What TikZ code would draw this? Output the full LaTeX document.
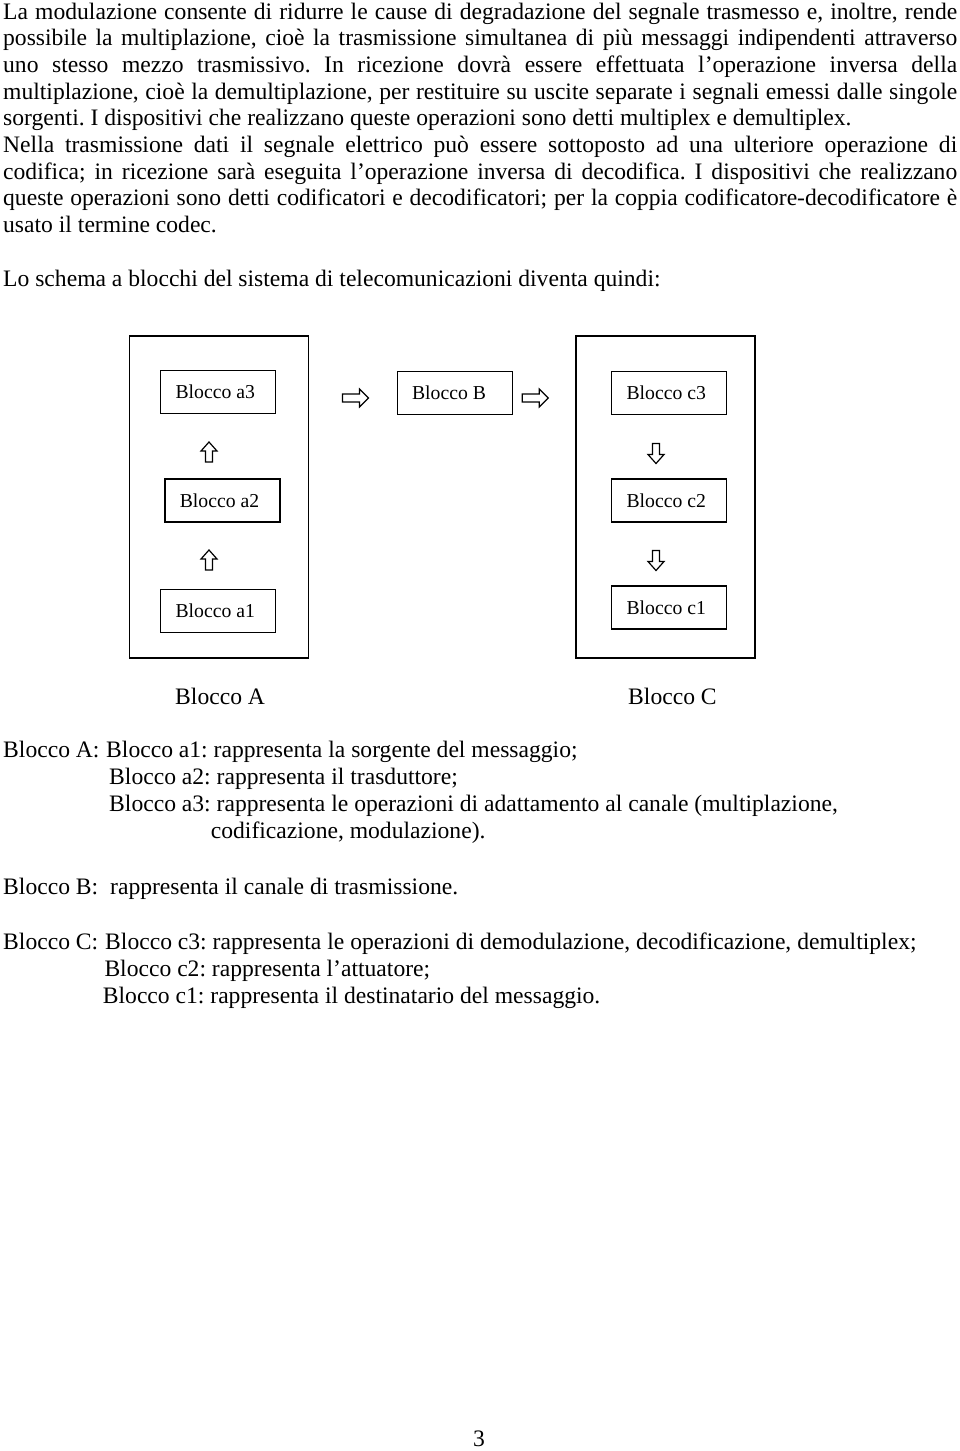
\documentclass[tikz,border=0pt]{standalone}
\usepackage{fontspec}
\setmainfont{Liberation Serif}
\usetikzlibrary{calc}
\frenchspacing
\newcommand\bodyfont{\fontsize{23.6}{26.7}\selectfont}
\newcommand\boxfont{\fontsize{19.7}{22}\selectfont}
\newcommand\jline[1]{\makebox[954pt][s]{#1}}
\newcommand\rightblk[1]{\draw[barrow] ($(#1)+(-13,-4)$) -- ++(17,0) -- ++(0,-5) -- ++(9,9) -- ++(-9,9) -- ++(0,-5) -- ++(-17,0) -- cycle;}
\newcommand\upblk[1]{\draw[barrow] ($(#1)+(-3.5,10)$) -- ++(0,-11) -- ++(-4.5,0) -- ++(8,-9) -- ++(8,9) -- ++(-4.5,0) -- ++(0,11) -- cycle;}
\newcommand\downblk[1]{\draw[barrow] ($(#1)+(-3.5,-10)$) -- ++(0,11) -- ++(-4.5,0) -- ++(8,9) -- ++(8,-9) -- ++(-4.5,0) -- ++(0,-11) -- cycle;}
\begin{document}
\begin{tikzpicture}[x=1pt,y=-1pt,
  txt/.style={anchor=base west, inner sep=0pt, font=\bodyfont},
  blk/.style={draw, line width=1.5pt, minimum width=115pt, minimum height=43pt, inner sep=0pt, font=\boxfont},
  outerbox/.style={draw, line width=1.6pt, minimum width=179pt, minimum height=322pt, inner sep=0pt},
  barrow/.style={draw, line width=1.2pt, fill=white, line join=miter}]
\useasboundingbox (0,0) rectangle (960,1451);
% paragraph text
\node[txt] (l1) at (3,19) {\jline{La modulazione consente di ridurre le cause di degradazione del segnale trasmesso e, inoltre, rende}};
\node[txt] (l2) at (3,45.7) {\jline{possibile la multiplazione, cioè la trasmissione simultanea di più messaggi indipendenti attraverso}};
\node[txt] (l3) at (3,72.4) {\jline{uno stesso mezzo trasmissivo. In ricezione dovrà essere effettuata l’operazione inversa della}};
\node[txt] (l4) at (3,99.1) {\jline{multiplazione, cioè la demultiplazione, per restituire su uscite separate i segnali emessi dalle singole}};
\node[txt] (l5) at (3,125.8) {sorgenti. I dispositivi che realizzano queste operazioni sono detti multiplex e demultiplex.};
\node[txt] (l6) at (3,152.5) {\jline{Nella trasmissione dati il segnale elettrico può essere sottoposto ad una ulteriore operazione di}};
\node[txt] (l7) at (3,179.2) {\jline{codifica; in ricezione sarà eseguita l’operazione inversa di decodifica. I dispositivi che realizzano}};
\node[txt] (l8) at (3,205.9) {\jline{queste operazioni sono detti codificatori e decodificatori; per la coppia codificatore-decodificatore è}};
\node[txt] (l9) at (3,232.6) {usato il termine codec.};
\node[txt] (l10) at (3,286) {Lo schema a blocchi del sistema di telecomunicazioni diventa quindi:};
% diagram
\node[outerbox] (A) at (218.8,496.8) {};
\node[outerbox] (C) at (665.5,496.8) {};
\node[blk] (a3) at (218.2,392) {\hspace*{-3pt}Blocco a3\hspace*{3pt}};
\node[blk] (a2) at (222.5,500.5) {\hspace*{-3pt}Blocco a2\hspace*{3pt}};
\node[blk] (a1) at (218.2,611) {\hspace*{-3pt}Blocco a1\hspace*{3pt}};
\node[blk] (B) at (455,393) {\hspace*{-6pt}Blocco B\hspace*{6pt}};
\node[blk] (c3) at (669.2,393) {\hspace*{-3pt}Blocco c3\hspace*{3pt}};
\node[blk] (c2) at (669.2,500.7) {\hspace*{-3pt}Blocco c2\hspace*{3pt}};
\node[blk] (c1) at (669.2,607.5) {\hspace*{-3pt}Blocco c1\hspace*{3pt}};
\coordinate (ab) at (355.5,398);
\coordinate (bc) at (535.3,398);
\coordinate (a12) at (209,560);
\coordinate (a23) at (209,452);
\coordinate (c32) at (656,453.5);
\coordinate (c21) at (656,560.5);
\rightblk{ab}
\rightblk{bc}
\upblk{a12}
\upblk{a23}
\downblk{c32}
\downblk{c21}
\node[txt] (labA) at (175,704) {Blocco A};
\node[txt] (labC) at (628,704) {Blocco C};
% description
\node[txt] (dA) at (3,757) {Blocco A:};
\node[txt] (da1) at (106,757) {Blocco a1: rappresenta la sorgente del messaggio;};
\node[txt] (da2) at (109,784) {Blocco a2: rappresenta il trasduttore;};
\node[txt] (da3) at (109,811) {Blocco a3: rappresenta le operazioni di adattamento al canale (multiplazione,};
\node[txt] (da3b) at (210.7,838) {codificazione, modulazione).};
\node[txt] (dB) at (3,894) {Blocco B:};
\node[txt] (dBt) at (110,894) {rappresenta il canale di trasmissione.};
\node[txt] (dC) at (3,949) {Blocco C:};
\node[txt] (dc3) at (105,949) {Blocco c3: rappresenta le operazioni di demodulazione, decodificazione, demultiplex;};
\node[txt] (dc2) at (104.3,976) {Blocco c2: rappresenta l’attuatore;};
\node[txt] (dc1) at (102.7,1003) {Blocco c1: rappresenta il destinatario del messaggio.};
\node[txt, anchor=base] (pg) at (479,1446) {3};
\end{tikzpicture}
\end{document}
